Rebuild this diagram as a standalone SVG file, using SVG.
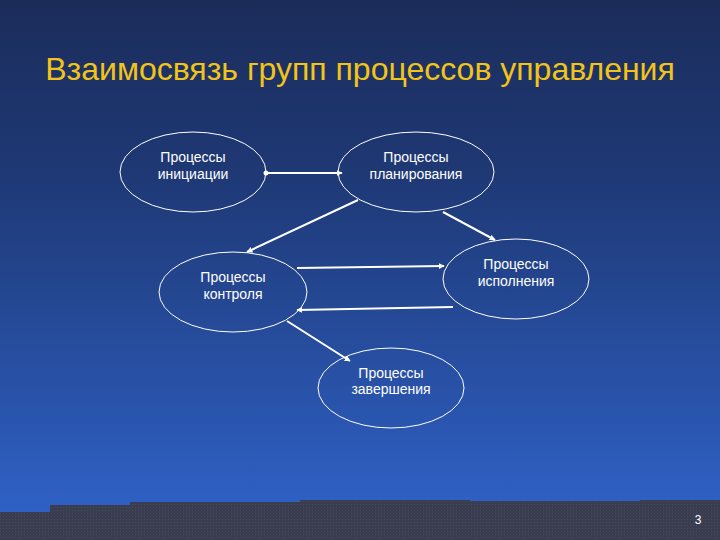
<svg xmlns="http://www.w3.org/2000/svg" width="720" height="540" viewBox="0 0 720 540">
<defs>
<linearGradient id="bg" x1="0" y1="0" x2="0" y2="1">
<stop offset="0" stop-color="#1b2c5a"/>
<stop offset="0.35" stop-color="#1f3a78"/>
<stop offset="1" stop-color="#3064cc"/>
</linearGradient>
<pattern id="dots" width="3" height="3" patternUnits="userSpaceOnUse">
<rect width="3" height="3" fill="#3a3c50"/>
<rect width="1" height="1" fill="#474a5e"/>
</pattern>
<marker id="ah" viewBox="0 0 10 10" refX="9" refY="5" markerWidth="6" markerHeight="6" orient="auto" markerUnits="userSpaceOnUse">
<path d="M0,0 L10,5 L0,10 Z" fill="#ffffff"/>
</marker>
<style>
.node{fill:none;stroke:#ffffff;stroke-width:1}
.lbl{font-family:"Liberation Sans",Arial,sans-serif;font-size:14px;fill:#ffffff;text-anchor:middle}
.con{stroke:#ffffff;stroke-width:2;fill:none;marker-end:url(#ah)}
</style>
</defs>
<rect width="720" height="540" fill="url(#bg)"/>
<path d="M0,505 L0,512 L50,512 L50,505 L130,505 L130,502 L300,502 L300,500 L470,500 L470,501 L640,501 L640,500 L720,500 L720,540 L0,540 Z" fill="url(#dots)"/>
<text x="360" y="80" font-family="'Liberation Sans',Arial,sans-serif" font-size="32" fill="#f2c418" text-anchor="middle">Взаимосвязь групп процессов управления</text>
<g id="n1"><ellipse class="node" cx="193" cy="172" rx="73" ry="40"/><text class="lbl" x="193" y="162">Процессы</text><text class="lbl" x="193" y="179">инициации</text></g>
<g id="n2"><ellipse class="node" cx="416" cy="172" rx="78" ry="40"/><text class="lbl" x="416" y="162">Процессы</text><text class="lbl" x="416" y="179">планирования</text></g>
<g id="n3"><ellipse class="node" cx="233" cy="292" rx="74" ry="40"/><text class="lbl" x="233" y="282">Процессы</text><text class="lbl" x="233" y="299">контроля</text></g>
<g id="n4"><ellipse class="node" cx="516" cy="279" rx="73" ry="40"/><text class="lbl" x="516" y="269">Процессы</text><text class="lbl" x="516" y="286">исполнения</text></g>
<g id="n5"><ellipse class="node" cx="391" cy="388" rx="73" ry="40"/><text class="lbl" x="391" y="378">Процессы</text><text class="lbl" x="391" y="394">завершения</text></g>
<g id="connectors">
<circle cx="266" cy="173" r="2.5" fill="#ffffff"/>
<line class="con" x1="266" y1="173" x2="342" y2="173"/>
<line class="con" x1="358" y1="200" x2="247" y2="252"/>
<line class="con" x1="443" y1="212" x2="495" y2="240"/>
<line class="con" x1="297" y1="268" x2="444" y2="266"/>
<line class="con" x1="453" y1="307" x2="297" y2="310"/>
<line class="con" x1="287" y1="321" x2="350" y2="361"/>
</g>
<text x="698" y="524" font-family="'Liberation Sans',Arial,sans-serif" font-size="12" fill="#ffffff" text-anchor="middle">3</text>
</svg>
